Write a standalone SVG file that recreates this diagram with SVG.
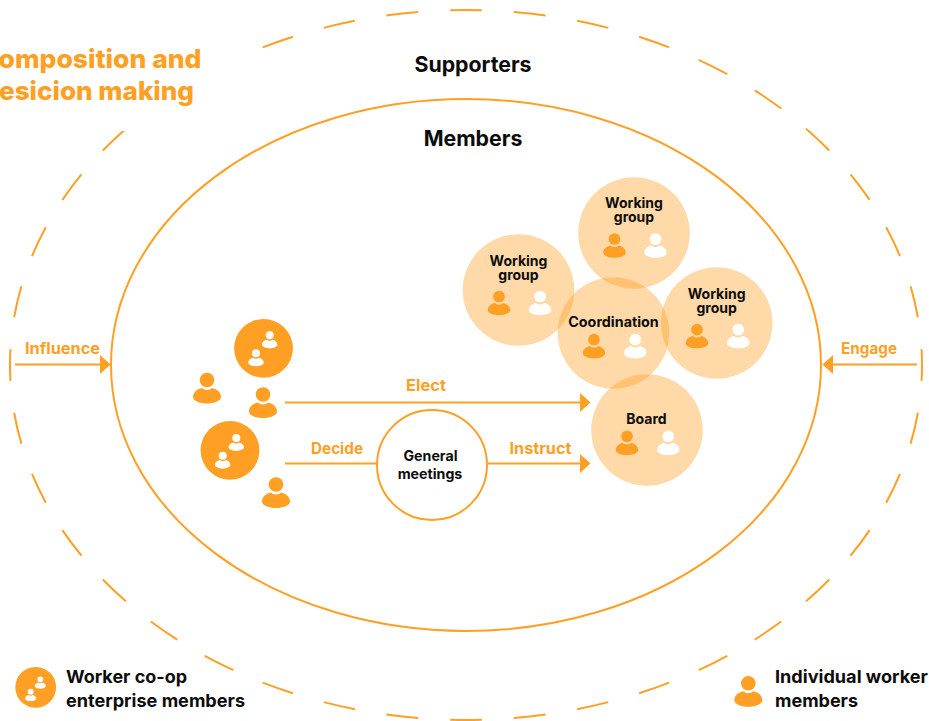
<svg xmlns="http://www.w3.org/2000/svg" width="929" height="721" viewBox="0 0 929 721">
<style>
text{font-family:"Inter","Liberation Sans",sans-serif;font-weight:700}
.o{fill:#ff9f24}.w{fill:#fff}
.dk{fill:#0c0c0c}
.ln{fill:none;stroke:#ff9f24;stroke-width:2}
.blob{fill:#ff9f24;fill-opacity:.4}
.ttl{font-size:26px;font-weight:800;text-anchor:end;fill:#ff9f24}
.big{font-size:21.300px;text-anchor:middle}
.lab{font-size:14px;text-anchor:middle}
.node{font-size:14.200px;text-anchor:middle}
.leg{font-size:18px}
.act{font-size:15.500px;text-anchor:middle;fill:#ff9f24}
</style>
<defs>
<g id="p"><circle cx="0" cy="0" r="7.3"/><path d="M-14 17C-14 11.500-9 9-5 8C-3 10.500 3 10.500 5 8C9 9 14 11.500 14 17C14 21 7 23.500 0 23.500C-7 23.500-14 21-14 17Z"/></g>
<marker id="arr" markerUnits="userSpaceOnUse" markerWidth="12" markerHeight="20" refX="1" refY="10" orient="auto"><path d="M1 0.500L11.500 10L1 19.500Z" fill="#ff9f24"/></marker>
</defs>
<g id="outer"><path class="ln" pathLength="2560" stroke-dasharray="32 32" stroke-dashoffset="16" d="M10 365A456 355 0 0 1 922 365A456 355 0 0 1 10 365Z"/></g>
<rect x="0" y="30" width="250" height="101" fill="#fff"/>
<text class="ttl" x="201.500" y="68" textLength="203" lengthAdjust="spacingAndGlyphs">omposition and</text>
<text class="ttl" x="194" y="100" textLength="195" lengthAdjust="spacingAndGlyphs">esicion making</text>
<g id="inner"><ellipse class="ln" cx="466" cy="365" rx="355" ry="266"/></g>
<text class="big dk" x="473" y="71.500">Supporters</text>
<text class="big dk" x="473" y="146">Members</text>
<g id="connectors">
<path class="ln" d="M15 364.500H100" marker-end="url(#arr)"/>
<path class="ln" d="M917 364.500H833" marker-end="url(#arr)"/>
<path class="ln" d="M285 402.500H580" marker-end="url(#arr)"/>
<path class="ln" d="M285 463.500H377"/>
<path class="ln" d="M488 463.500H580" marker-end="url(#arr)"/>
</g>
<text class="act" x="62.500" y="353.500" textLength="75" lengthAdjust="spacingAndGlyphs">Influence</text>
<text class="act" x="869" y="353.500" textLength="56" lengthAdjust="spacingAndGlyphs">Engage</text>
<text class="act" x="426" y="390.500" textLength="40" lengthAdjust="spacingAndGlyphs">Elect</text>
<text class="act" x="337" y="453.500" textLength="52" lengthAdjust="spacingAndGlyphs">Decide</text>
<text class="act" x="540.500" y="453.500" textLength="62" lengthAdjust="spacingAndGlyphs">Instruct</text>
<g id="enterprise-1"><circle class="o" cx="263.500" cy="348.300" r="29.400"/><use href="#p" class="w" transform="translate(269.700 335.300) scale(.55)"/><use href="#p" class="w" transform="translate(256 353.300) scale(.55)"/></g>
<g id="enterprise-2"><circle class="o" cx="230" cy="450.300" r="29.400"/><use href="#p" class="w" transform="translate(236.300 438) scale(.55)"/><use href="#p" class="w" transform="translate(222.700 455.700) scale(.55)"/></g>
<g id="person-1"><use href="#p" class="o" transform="translate(207 380)"/></g>
<g id="person-2"><use href="#p" class="o" transform="translate(263 394.500)"/></g>
<g id="person-3"><use href="#p" class="o" transform="translate(276 484.500)"/></g>
<g id="general-meetings"><circle cx="432" cy="465" r="55" fill="#fff" stroke="#ff9f24" stroke-width="2"/><text class="node dk" x="430.500" y="461">General</text><text class="node dk" x="430" y="479">meetings</text></g>
<g id="working-group-1"><circle class="blob" cx="634" cy="233" r="55.800"/><text class="lab dk" x="634" y="208">Working</text><text class="lab dk" x="634" y="222">group</text><use href="#p" class="o" transform="translate(614.500 239) scale(.8)"/><use href="#p" class="w" transform="translate(655.500 239) scale(.8)"/></g>
<g id="working-group-2"><circle class="blob" cx="518.500" cy="290" r="55.800"/><text class="lab dk" x="518.500" y="266">Working</text><text class="lab dk" x="518.500" y="280">group</text><use href="#p" class="o" transform="translate(499 296.500) scale(.8)"/><use href="#p" class="w" transform="translate(540 296.500) scale(.8)"/></g>
<g id="coordination"><circle class="blob" cx="613.500" cy="333" r="55.800"/><text class="lab dk" x="613.500" y="327" textLength="90.500" lengthAdjust="spacingAndGlyphs">Coordination</text><use href="#p" class="o" transform="translate(594 339.700) scale(.8)"/><use href="#p" class="w" transform="translate(635.300 339.700) scale(.8)"/></g>
<g id="working-group-3"><circle class="blob" cx="716.700" cy="323" r="55.800"/><text class="lab dk" x="716.700" y="299">Working</text><text class="lab dk" x="716.700" y="313">group</text><use href="#p" class="o" transform="translate(697 329.700) scale(.8)"/><use href="#p" class="w" transform="translate(738.300 329.700) scale(.8)"/></g>
<g id="board"><circle class="blob" cx="647" cy="430" r="55.800"/><text class="lab dk" x="646.500" y="424">Board</text><use href="#p" class="o" transform="translate(627 436.300) scale(.8)"/><use href="#p" class="w" transform="translate(668.300 436.300) scale(.8)"/></g>
<g id="legend-enterprise"><circle class="o" cx="35.700" cy="687.300" r="20.400"/><use href="#p" class="w" transform="translate(40.300 679.300) scale(.4)"/><use href="#p" class="w" transform="translate(30.700 691.700) scale(.4)"/><text class="leg dk" x="66" y="683" textLength="121" lengthAdjust="spacingAndGlyphs">Worker co-op</text><text class="leg dk" x="66" y="707" textLength="179" lengthAdjust="spacingAndGlyphs">enterprise members</text></g>
<g id="legend-individual"><use href="#p" class="o" transform="translate(748.300 683.300)"/><text class="leg dk" x="775" y="683" textLength="153" lengthAdjust="spacingAndGlyphs">Individual worker</text><text class="leg dk" x="775" y="707" textLength="83" lengthAdjust="spacingAndGlyphs">members</text></g>
</svg>
